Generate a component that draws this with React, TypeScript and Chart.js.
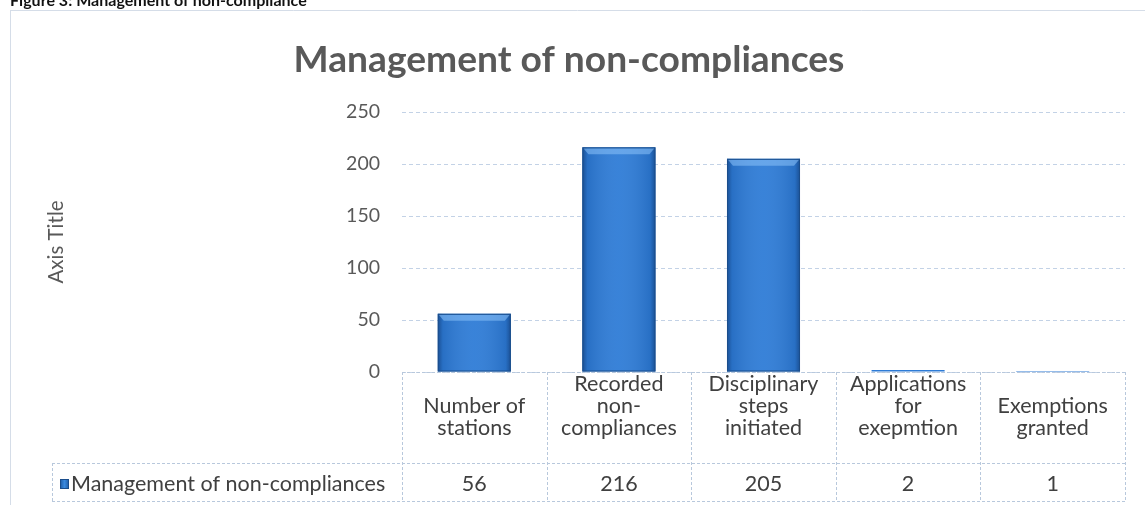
import React, { useEffect, useRef } from 'react';
import { Chart, registerables } from 'chart.js';

Chart.register(...registerables);

// ---- data ----
const categoryLines: string[][] = [
  ['Number of', 'stations'],
  ['Recorded', 'non-', 'compliances'],
  ['Disciplinary', 'steps', 'initiated'],
  ['Applications', 'for', 'exepmtion'],
  ['Exemptions', 'granted'],
];
const categories = categoryLines.map((l) => l.join(' '));
const values = [56, 216, 205, 2, 1];
const seriesName = 'Management of non-compliances';
const chartTitle = 'Management of non-compliances';
const captionText = 'Figure 3: Management of non-compliance';
const yAxisTitle = 'Axis Title';
const yMin = 0;
const yMax = 250;
const yStep = 50;

const FONT = 'Lato, "Open Sans", sans-serif';
const GRID = '#c3d2e6';
const TABLE_LINE = '#b8c8dc';
const TEXT_DARK = '#404040';
const TEXT_GRAY = '#595959';
const BAR = '#2d7bd6';
const BAR_EDGE = '#1b4e8c';

function fitFont(ctx: CanvasRenderingContext2D, text: string, weight: string, target: number) {
  ctx.font = `${weight} 20px ${FONT}`;
  const w = ctx.measureText(text).width;
  const size = (20 * target) / w;
  return `${weight} ${size.toFixed(2)}px ${FONT}`;
}

const decorPlugin = {
  id: 'decor',
  afterDatasetsDraw(chart: any) {
    const ctx: CanvasRenderingContext2D = chart.ctx;
    const meta = chart.getDatasetMeta(0);
    ctx.save();
    meta.data.forEach((bar: any) => {
      const { x, y, base, width } = bar.getProps(['x', 'y', 'base', 'width'], true);
      const l = x - width / 2;
      const r = x + width / 2;
      const h = base - y;
      if (h < 4) return;
      const g = ctx.createLinearGradient(l, 0, r, 0);
      g.addColorStop(0, 'rgba(12,45,95,0.55)');
      g.addColorStop(0.07, 'rgba(12,45,95,0.15)');
      g.addColorStop(0.5, 'rgba(255,255,255,0.06)');
      g.addColorStop(0.93, 'rgba(12,45,95,0.15)');
      g.addColorStop(1, 'rgba(12,45,95,0.55)');
      ctx.fillStyle = g;
      ctx.fillRect(l, y, width, h);
      // top bevel
      ctx.beginPath();
      ctx.moveTo(l + 1, y + 1);
      ctx.lineTo(r - 1, y + 1);
      ctx.lineTo(r - 6, y + 7);
      ctx.lineTo(l + 6, y + 7);
      ctx.closePath();
      ctx.fillStyle = 'rgba(140,195,250,0.55)';
      ctx.fill();
      ctx.strokeStyle = BAR_EDGE;
      ctx.lineWidth = 1;
      ctx.strokeRect(l + 0.5, y + 0.5, width - 1, h - 1);
    });
    ctx.restore();
  },
  afterDraw(chart: any) {
    const ctx: CanvasRenderingContext2D = chart.ctx;
    const { left, right, bottom } = chart.chartArea;
    const xs = chart.scales.x;
    const n = values.length;
    const colW = (right - left) / n;
    const rowY = 463;
    const tableBottom = 501;
    const legendLeft = 52;

    ctx.save();
    // outer chart border (left + top)
    ctx.strokeStyle = '#d5dde8';
    ctx.lineWidth = 1;
    ctx.beginPath();
    ctx.moveTo(10.5, 10);
    ctx.lineTo(10.5, 505);
    ctx.moveTo(10, 10.5);
    ctx.lineTo(1145, 10.5);
    ctx.stroke();

    // caption (cut by top edge)
    ctx.fillStyle = '#111111';
    ctx.font = fitFont(ctx, captionText, 'bold', 297);
    ctx.textAlign = 'left';
    ctx.textBaseline = 'alphabetic';
    ctx.fillText(captionText, 10, 5.5);

    // chart title
    ctx.fillStyle = TEXT_GRAY;
    ctx.font = fitFont(ctx, chartTitle, 'bold', 551);
    ctx.textAlign = 'center';
    ctx.fillText(chartTitle, 569, 72);

    // data table lines
    ctx.strokeStyle = TABLE_LINE;
    ctx.setLineDash([3, 2]);
    ctx.beginPath();
    ctx.moveTo(left, Math.round(bottom) + 0.5);
    ctx.lineTo(right, Math.round(bottom) + 0.5);
    ctx.moveTo(legendLeft, rowY + 0.5);
    ctx.lineTo(right, rowY + 0.5);
    ctx.moveTo(legendLeft, tableBottom + 0.5);
    ctx.lineTo(right, tableBottom + 0.5);
    ctx.moveTo(legendLeft + 0.5, rowY);
    ctx.lineTo(legendLeft + 0.5, tableBottom);
    for (let i = 0; i <= n; i++) {
      const cx = i < n ? xs.getPixelForValue(i) - colW / 2 : xs.getPixelForValue(n - 1) + colW / 2;
      const px = Math.round(cx) + 0.5;
      ctx.moveTo(px, bottom);
      ctx.lineTo(px, tableBottom);
    }
    ctx.stroke();
    ctx.setLineDash([]);

    // category labels & values
    ctx.fillStyle = TEXT_DARK;
    ctx.font = `21.5px ${FONT}`;
    ctx.textAlign = 'center';
    ctx.textBaseline = 'middle';
    const lh = 22;
    categoryLines.forEach((lines, i) => {
      const cx = xs.getPixelForValue(i);
      const m = lines.length;
      const center = 417 - (m - 2) * 11;
      lines.forEach((t, j) => {
        ctx.fillText(t, cx, center + (j - (m - 1) / 2) * lh);
      });
      ctx.fillText(String(values[i]), cx, 484);
    });

    // legend key + series name
    const kg = ctx.createLinearGradient(60, 0, 69, 0);
    kg.addColorStop(0, '#1d5aa3');
    kg.addColorStop(0.5, '#3a8ae0');
    kg.addColorStop(1, '#1d5aa3');
    ctx.fillStyle = kg;
    ctx.fillRect(60, 479, 9, 10);
    ctx.strokeStyle = BAR_EDGE;
    ctx.strokeRect(60.5, 479.5, 8, 9);
    ctx.fillStyle = TEXT_DARK;
    ctx.textAlign = 'left';
    ctx.fillText(seriesName, 71, 484);
    ctx.restore();
  },
};

export default function App() {
  const ref = useRef<HTMLCanvasElement>(null);

  useEffect(() => {
    document.body.style.margin = '0';
    const canvas = ref.current!;
    const chart = new Chart(canvas, {
      type: 'bar',
      data: {
        labels: categories,
        datasets: [
          {
            label: seriesName,
            data: values,
            backgroundColor: BAR,
            borderColor: BAR_EDGE,
            borderWidth: 0,
            barPercentage: 0.505,
            categoryPercentage: 1,
          },
        ],
      },
      options: {
        animation: false,
        responsive: false,
        devicePixelRatio: 1,
        layout: { padding: { top: 112, right: 20, bottom: 133, left: 44 } },
        plugins: {
          legend: { display: false },
          title: { display: false },
          tooltip: { enabled: false },
        },
        scales: {
          x: {
            display: false,
            offset: true,
          },
          y: {
            min: yMin,
            max: yMax,
            ticks: {
              stepSize: yStep,
              color: TEXT_GRAY,
              font: { family: FONT, size: 19.5 },
              padding: 22,
            },
            grid: { color: GRID, drawTicks: false, tickLength: 0 },
            border: { display: false, dash: [4, 3] },
            title: {
              display: true,
              text: yAxisTitle,
              color: TEXT_GRAY,
              font: { family: FONT, size: 20.5 },
              padding: 0,
            },
            afterFit(scale: any) {
              scale.width = 358;
            },
          },
        },
      },
      plugins: [decorPlugin],
    });
    return () => chart.destroy();
  }, []);

  return (
    <div style={{ width: 1145, height: 505, overflow: 'hidden', background: '#ffffff' }}>
      <canvas ref={ref} width={1145} height={505} style={{ display: 'block' }} />
    </div>
  );
}
